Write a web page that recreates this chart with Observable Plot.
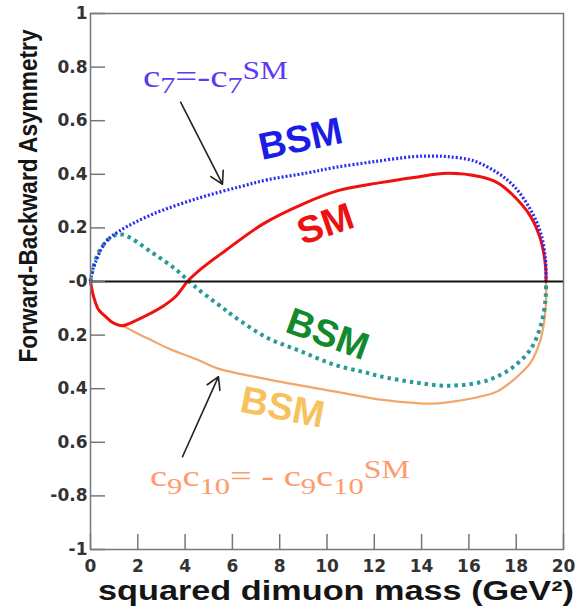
<!DOCTYPE html>
<html><head><meta charset="utf-8">
<script src="https://cdn.jsdelivr.net/npm/d3@7"></script>
<script src="https://cdn.jsdelivr.net/npm/@observablehq/plot@0.6"></script>
<style>body{margin:0;background:#fff}</style>
</head><body><div id="chart"></div>
<script>
// ---- data ----
const smQ2  = [0,0.13,0.34,0.63,0.93,1.35,2.0,3.05,3.6,4.1,4.65,5.7,7.3,9.0,10.5,12.26,13.67,15.08,16.49,17.2,17.9,18.6,19.03,19.24,19.26];
const smAfb = [0,-0.056,-0.105,-0.13,-0.153,-0.165,-0.142,-0.093,-0.056,0,0.045,0.115,0.215,0.29,0.34,0.369,0.388,0.404,0.391,0.369,0.319,0.244,0.157,0.057,0];

const c7Q2  = [0,0.08,0.2,0.63,1.2,2.6,4.6,6.34,7.5,9.16,10.3,11.98,13.67,14.38,15.08,16.21,17.2,17.9,18.6,19.03,19.24,19.26];
const c7Afb = [0,0.04,0.07,0.146,0.187,0.25,0.312,0.354,0.38,0.405,0.425,0.447,0.466,0.468,0.466,0.45,0.406,0.356,0.269,0.182,0.082,0];

const greenQ2  = [0,0.1,0.34,0.85,1.35,2.6,3.6,4.3,4.65,5.57,6.06,7.47,8.88,10.29,11.7,12.26,13.67,15.08,16.49,17.2,17.9,18.6,19.03,19.24,19.26];
const greenAfb = [0,0.045,0.108,0.164,0.175,0.108,0.045,-0.01,-0.036,-0.097,-0.13,-0.21,-0.26,-0.31,-0.341,-0.354,-0.376,-0.389,-0.376,-0.354,-0.317,-0.254,-0.167,-0.067,0];

const c910Q2  = [0,0.13,0.34,0.63,0.93,1.35,1.9,2.6,3.3,4.6,5.4,7.5,10.3,12.26,13.67,14.38,15.08,16.49,17.2,17.9,18.6,19.03,19.24,19.26];
const c910Afb = [0,-0.056,-0.105,-0.13,-0.153,-0.165,-0.19,-0.22,-0.25,-0.295,-0.325,-0.365,-0.41,-0.441,-0.453,-0.456,-0.451,-0.429,-0.41,-0.366,-0.304,-0.217,-0.105,0];

const xTicks = [0,2,4,6,8,10,12,14,16,18,20];
const xTickLabels = ["0","2","4","6","8","10","12","14","16","18","20"];
const yTicks = [-1,-0.8,-0.6,-0.4,-0.2,0,0.2,0.4,0.6,0.8,1];
const yTickLabels = ["-1","-0.8","0.6","0.4","0.2","-0","0.2","0.4","0.6","0.8","1"];

const xTitle = "squared dimuon mass (GeV²)";
const yTitle = "Forward-Backward Asymmetry";
const curveLabels = ["BSM","SM","BSM","BSM"];

// ---- annotation placement (data coordinates) ----
const curveLabelPos = [
  {x: 8.88, y: 0.531, rotate: -12, color: "#1c1ce6"},
  {x: 9.94, y: 0.213, rotate: -19, color: "#ee1111"},
  {x: 10.02, y: -0.198, rotate: 20, color: "#118a2e"},
  {x: 8.12, y: -0.471, rotate: 11, color: "#f7c25e"}
].map((d, i) => ({...d, text: curveLabels[i]}));
const arrows = [
  {x1: 3.81, y1: 0.669, x2: 5.58, y2: 0.363},
  {x1: 3.89, y1: -0.654, x2: 5.41, y2: -0.355}
];

const rows = (q, a) => q.map((x, i) => ({x, y: a[i]}));

const plot = Plot.plot({
  width: 576, height: 606,
  marginLeft: 90, marginRight: 13, marginTop: 13, marginBottom: 57,
  x: {domain: [0, 20], label: null},
  y: {domain: [-1, 1], label: null},
  color: {type: "identity"},
  marks: [
    Plot.line(rows(c910Q2, c910Afb), {x: "x", y: "y", stroke: "#f3a66a", strokeWidth: 2.2, curve: "catmull-rom"}),
    Plot.line(rows(greenQ2, greenAfb), {x: "x", y: "y", stroke: "#2a9a96", strokeWidth: 4, strokeDasharray: "3.5,4", strokeLinecap: "butt", curve: "catmull-rom"}),
    Plot.line(rows(smQ2, smAfb), {x: "x", y: "y", stroke: "#ee1111", strokeWidth: 3, curve: "catmull-rom"}),
    Plot.line(rows(c7Q2, c7Afb), {x: "x", y: "y", stroke: "#2b2bf0", strokeWidth: 3.2, strokeDasharray: "2,2", strokeLinecap: "butt", curve: "catmull-rom"}),
    Plot.ruleY([0], {stroke: "#111", strokeWidth: 2.2}),
    Plot.frame({stroke: "#777", strokeWidth: 1.5}),
    Plot.axisY(yTicks, {tickSize: -15, fill: "none", stroke: "#777", strokeWidth: 1.5, label: null}),
    Plot.axisX(xTicks, {tickSize: -15, fill: "none", stroke: "#777", strokeWidth: 1.5, label: null}),
    Plot.axisY(yTicks, {tickSize: 0, tickPadding: 3, label: null, fill: "#333", fontSize: 17, fontWeight: "bold", fontFamily: "DejaVu Sans",
      tickFormat: d => yTickLabels[yTicks.indexOf(d)]}),
    Plot.axisX(xTicks, {tickSize: 0, tickPadding: 10, label: null, fill: "#333", fontSize: 17, fontWeight: "bold", fontFamily: "DejaVu Sans",
      tickFormat: d => xTickLabels[xTicks.indexOf(d)]}),
    Plot.arrow(arrows, {x1: "x1", y1: "y1", x2: "x2", y2: "y2", stroke: "#222", strokeWidth: 1.6, headLength: 13}),
    Plot.text(curveLabelPos, {x: "x", y: "y", text: "text", rotate: "rotate", fill: d => d.color,
      fontSize: 38, fontWeight: "bold", fontFamily: "Liberation Sans", ariaLabel: "curve-labels"})
  ]
});
document.getElementById("chart").appendChild(plot);

const svg = d3.select(plot);
const sx = plot.scale("x"), sy = plot.scale("y");

// stretch curve labels horizontally like the reference
svg.selectAll('g[aria-label="curve-labels"] text').each(function () {
  const t = this.getAttribute("transform") || "";
  this.setAttribute("transform", t + " scale(1.2,1)");
});

// axis titles
svg.append("text").attr("transform", "translate(37,196) rotate(-90)")
  .attr("text-anchor", "middle").attr("font-family", "Liberation Sans").attr("font-weight", "bold")
  .attr("font-size", 25).attr("textLength", 333).attr("lengthAdjust", "spacingAndGlyphs")
  .attr("fill", "#151515").text(yTitle);
svg.append("text").attr("x", 98).attr("y", 600).attr("text-anchor", "start")
  .attr("font-family", "Liberation Sans").attr("font-weight", "bold")
  .attr("font-size", 28).attr("textLength", 476).attr("lengthAdjust", "spacingAndGlyphs")
  .attr("fill", "#151515").text(xTitle);

// rich formula annotations
function rich(parts, x, y, width, color, size) {
  const px = sx.apply(x), py = sy.apply(y);
  const t = svg.append("text").attr("text-anchor", "start").attr("font-family", "Liberation Serif")
    .attr("fill", color).attr("font-size", size);
  parts.forEach(p => t.append("tspan").attr("font-size", p.s).attr("dy", p.dy).text(p.t));
  const w = t.node().getBBox().width;
  t.attr("transform", `translate(${px},${py}) scale(${width / w},1)`);
}
rich([
  {t: "c", s: 31, dy: 0}, {t: "7", s: 24, dy: 6}, {t: "=-c", s: 31, dy: -6},
  {t: "7", s: 24, dy: 6}, {t: "SM", s: 25, dy: -14}
], 2.24, 0.725, 145, "#5d3af2", 31);
rich([
  {t: "c", s: 30, dy: 0}, {t: "9", s: 24, dy: 8}, {t: "c", s: 30, dy: -8}, {t: "10", s: 24, dy: 8},
  {t: "= - c", s: 30, dy: -8}, {t: "9", s: 24, dy: 8}, {t: "c", s: 30, dy: -8}, {t: "10", s: 24, dy: 8},
  {t: "SM", s: 25, dy: -16}
], 2.54, -0.766, 260, "#ff9b6e", 30);
</script></body></html>
